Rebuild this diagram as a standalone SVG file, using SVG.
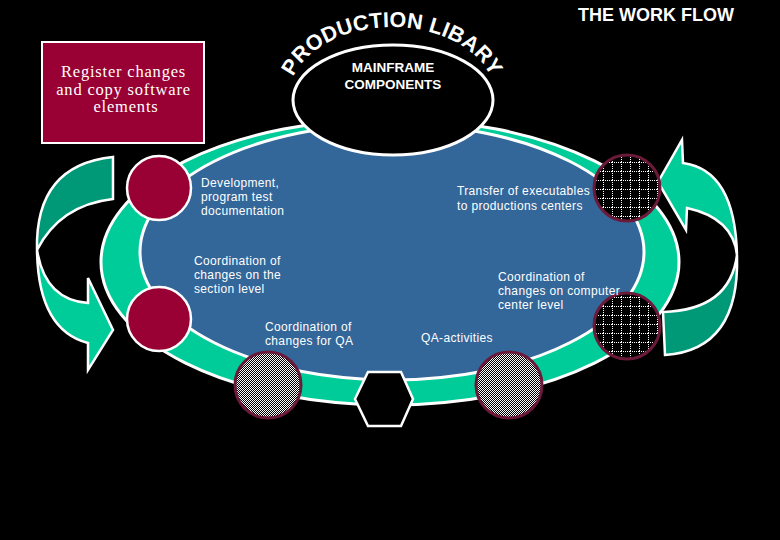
<svg xmlns="http://www.w3.org/2000/svg" width="780" height="540" viewBox="0 0 780 540">
<defs>
<pattern id="checker" width="2" height="2" patternUnits="userSpaceOnUse">
<rect width="2" height="2" fill="#000"/>
<rect width="1" height="1" fill="#fff"/>
<rect x="1" y="1" width="1" height="1" fill="#fff"/>
</pattern>
<pattern id="grid" width="9" height="9" patternUnits="userSpaceOnUse">
<rect width="9" height="9" fill="#000"/>
<path d="M0 0.5H9M0.5 0V9" stroke="#fff" stroke-width="1" stroke-dasharray="1 1"/>
</pattern>
<path id="arc" d="M 293.1,76.8 A 104 72 0 0 1 490.9,76.8"/>
</defs>
<style>
.lbl{font-family:"Liberation Sans",Arial,sans-serif;font-size:12px;fill:#fff;letter-spacing:0.35px}
.red{fill:#990033;stroke:#fff;stroke-width:2.5}
.chk{stroke:#6b1a3a;stroke-width:3}
.arrow{stroke:#fff;stroke-width:2.5;stroke-linejoin:miter}
.dark{fill:#009977}
.light{fill:#00cc99}
</style>
<rect width="780" height="540" fill="#000"/>

<g id="connectors">
<path class="arrow dark" d="M113,157 L113,199 Q60,205 37,250 Q35,165 113,157 Z"/>
<path class="arrow light" d="M37,250 Q45,300 88,303 L88,278 L113,330 L88,370 L88,343 Q38,330 37,250 Z"/>
<path class="arrow light" d="M658,182 L682,140 L683,163 Q735,170 737,255 Q733,218 687,208 L686,230 Z"/>
<path class="arrow dark" d="M737,255 Q740,350 665,355 L663,312 Q730,310 737,255 Z"/>
</g>

<g id="ring">
<ellipse cx="390" cy="262" rx="289" ry="143" fill="#00cc99" stroke="#fff" stroke-width="3"/>
<ellipse cx="392" cy="252" rx="252" ry="128" fill="#336699" stroke="#fff" stroke-width="3"/>
</g>

<g id="mainframe">
<ellipse cx="393" cy="100" rx="100" ry="55" fill="#000" stroke="#fff" stroke-width="3"/>
<text x="393" y="72" text-anchor="middle" font-family="Liberation Sans,Arial,sans-serif" font-weight="bold" font-size="13.5" fill="#fff">MAINFRAME</text>
<text x="393" y="89" text-anchor="middle" font-family="Liberation Sans,Arial,sans-serif" font-weight="bold" font-size="13.5" fill="#fff">COMPONENTS</text>
</g>

<g id="library-label">
<text font-family="Liberation Sans,Arial,sans-serif" font-weight="bold" font-size="21.5" fill="#fff" letter-spacing="0.15"><textPath href="#arc" startOffset="0">PRODUCTION LIBARY</textPath></text>
</g>

<g id="title">
<text x="578" y="21" font-family="Liberation Sans,Arial,sans-serif" font-weight="bold" font-size="18" fill="#fff">THE WORK FLOW</text>
</g>

<g id="register">
<rect x="42" y="42" width="162" height="101" fill="#990033" stroke="#fff" stroke-width="2"/>
<text text-anchor="middle" font-family="Liberation Serif,Times New Roman,serif" font-size="16.5" fill="#fff" letter-spacing="0.8">
<tspan x="126" y="77">Register changes</tspan>
<tspan x="126" y="94.5">and copy software</tspan>
<tspan x="126" y="112">elements</tspan>
</text>
</g>

<g id="node-dev"><circle class="red" cx="159" cy="188" r="32"/></g>
<g id="node-section"><circle class="red" cx="159" cy="319" r="32"/></g>
<g id="node-transfer"><circle class="chk" cx="627" cy="188" r="33" fill="url(#grid)"/></g>
<g id="node-center"><circle class="chk" cx="627" cy="326" r="33" fill="url(#grid)"/></g>
<g id="node-qa-coord"><circle class="chk" cx="268" cy="385" r="33" fill="url(#checker)"/></g>
<g id="node-qa"><circle class="chk" cx="509" cy="385" r="33" fill="url(#checker)"/></g>
<g id="node-hex"><polygon points="355,399 368,372 401,372 413,399 401,426 368,426" fill="#000" stroke="#fff" stroke-width="2.5"/></g>

<g id="labels">
<text class="lbl"><tspan x="201" y="187">Development,</tspan><tspan x="201" y="201">program test</tspan><tspan x="201" y="215">documentation</tspan></text>
<text class="lbl"><tspan x="457" y="195">Transfer of executables</tspan><tspan x="457" y="210">to productions centers</tspan></text>
<text class="lbl"><tspan x="194" y="265">Coordination of</tspan><tspan x="194" y="279">changes on  the</tspan><tspan x="194" y="293">section level</tspan></text>
<text class="lbl"><tspan x="498" y="281">Coordination of</tspan><tspan x="498" y="295">changes on computer</tspan><tspan x="498" y="309">center level</tspan></text>
<text class="lbl"><tspan x="265" y="331">Coordination of</tspan><tspan x="265" y="345">changes for QA</tspan></text>
<text class="lbl" x="421" y="342">QA-activities</text>
</g>
</svg>
